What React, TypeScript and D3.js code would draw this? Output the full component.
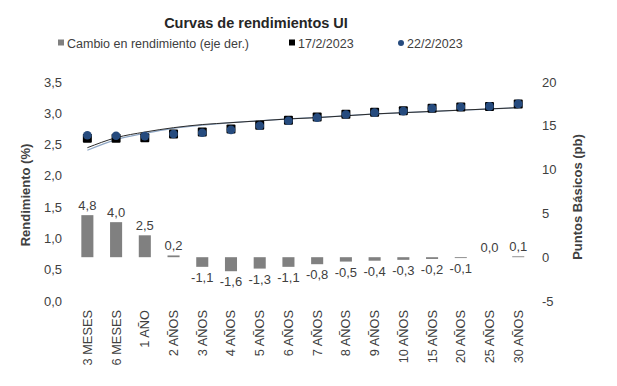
import React from "react";
import * as d3 from "d3";

// categorias (plazos)
const plazos = [
  "3 MESES", "6 MESES", "1 AÑO", "2 AÑOS", "3 AÑOS", "4 AÑOS", "5 AÑOS", "6 AÑOS",
  "7 AÑOS", "8 AÑOS", "9 AÑOS", "10 AÑOS", "15 AÑOS", "20 AÑOS", "25 AÑOS", "30 AÑOS",
];
// rendimientos (%)
const rend17 = [2.6, 2.6, 2.61, 2.67, 2.7, 2.75, 2.81, 2.89, 2.94, 2.985, 3.015, 3.04, 3.08, 3.1, 3.11, 3.15];
const rend22 = [2.65, 2.64, 2.635, 2.67, 2.69, 2.735, 2.8, 2.88, 2.93, 2.98, 3.01, 3.035, 3.08, 3.1, 3.11, 3.15];
// lineas de tendencia
const tend17 = [2.45, 2.61, 2.7, 2.77, 2.82, 2.85, 2.88, 2.91, 2.93, 2.96, 2.99, 3.01, 3.03, 3.05, 3.07, 3.09];
const tend22 = [2.41, 2.58, 2.68, 2.76, 2.81, 2.85, 2.88, 2.91, 2.935, 2.96, 2.99, 3.01, 3.03, 3.05, 3.07, 3.09];
// cambio en puntos basicos
const cambio = [4.8, 4.0, 2.5, 0.2, -1.1, -1.6, -1.3, -1.1, -0.8, -0.5, -0.4, -0.3, -0.2, -0.1, 0.0, 0.1];

const leftTicks = [0, 0.5, 1, 1.5, 2, 2.5, 3, 3.5];
const rightTicks = [-5, 0, 5, 10, 15, 20];

const W = 617, H = 386;
const font = "'Liberation Sans', Arial, sans-serif";
const txt = "#404040";
const fmt = (v: number, d: number) => v.toFixed(d).replace(".", ",");

export default function App() {
  const x = d3.scaleBand().domain(plazos).range([73, 532.6]).paddingInner(0.58).paddingOuter(0.29);
  const yL = d3.scaleLinear().domain([0, 3.5]).range([301, 82]);
  const yR = d3.scaleLinear().domain([-5, 20]).range([301, 82]);
  const cx = (p: string) => (x(p) as number) + x.bandwidth() / 2;

  const line = (vals: number[]) =>
    d3.line<number>().x((_, i) => cx(plazos[i])).y((v) => yL(v)).curve(d3.curveMonotoneX)(vals) || "";

  return (
    <svg width={W} height={H} style={{ position: "absolute", left: 0, top: 0, background: "#fff" }} fontFamily={font}>
      <text x={256} y={28} textAnchor="middle" fontSize={14.5} fontWeight="bold" fill="#262626">
        Curvas de rendimientos UI
      </text>

      {/* leyenda */}
      <g fontSize={12.5} fill={txt}>
        <rect x={58} y={39.5} width={6} height={6} fill="#808080" />
        <text x={67} y={48}>Cambio en rendimiento (eje der.)</text>
        <rect x={289} y={39.5} width={6} height={6} fill="#000" />
        <text x={298} y={48}>17/2/2023</text>
        <circle cx={401} cy={43} r={3} fill="#264b7e" />
        <text x={407} y={48}>22/2/2023</text>
      </g>

      {/* eje izquierdo */}
      <g fontSize={13} fill={txt} textAnchor="end">
        {leftTicks.map((t) => (
          <text key={t} x={62} y={yL(t) + 4.5}>{fmt(t, 1)}</text>
        ))}
      </g>
      <text transform="translate(30,195) rotate(-90)" textAnchor="middle" fontSize={13} fontWeight="bold" fill={txt}>
        Rendimiento (%)
      </text>

      {/* eje derecho */}
      <g fontSize={13} fill={txt} textAnchor="start">
        {rightTicks.map((t) => (
          <text key={t} x={542} y={yR(t) + 4.5}>{t}</text>
        ))}
      </g>
      <text transform="translate(582,197) rotate(-90)" textAnchor="middle" fontSize={13} fontWeight="bold" fill={txt}>
        Puntos Básicos (pb)
      </text>

      {/* barras */}
      {cambio.map((v, i) => {
        const y0 = yR(0), y1 = yR(v);
        return (
          <rect key={i} x={x(plazos[i])} y={Math.min(y0, y1)} width={x.bandwidth()}
            height={Math.max(Math.abs(y1 - y0), 0.8)} fill={v === 0 ? "none" : "#808080"} />
        );
      })}
      <g fontSize={13} fill={txt} textAnchor="middle">
        {cambio.map((v, i) => (
          <text key={i} x={cx(plazos[i])} y={v >= 0 ? yR(v) - 5 : yR(v) + 15}>{fmt(v, 1)}</text>
        ))}
      </g>

      {/* tendencias */}
      <path d={line(tend22)} fill="none" stroke="#8ea6c4" strokeWidth={1.2} />
      <path d={line(tend17)} fill="none" stroke="#2b2b2b" strokeWidth={1} />

      {/* marcadores */}
      {rend17.map((v, i) => (
        <rect key={"s" + i} x={cx(plazos[i]) - 4.5} y={yL(v) - 4.5} width={9} height={9} fill="#000" rx={1} />
      ))}
      {rend22.map((v, i) => (
        <circle key={"c" + i} cx={cx(plazos[i])} cy={yL(v)} r={4.3} fill="#264b7e" />
      ))}

      {/* etiquetas de categorias */}
      <g fontSize={12.8} fill={txt} textAnchor="end">
        {plazos.map((p) => (
          <text key={p} transform={`translate(${cx(p) + 4.5},310) rotate(-90)`}>{p}</text>
        ))}
      </g>
    </svg>
  );
}
